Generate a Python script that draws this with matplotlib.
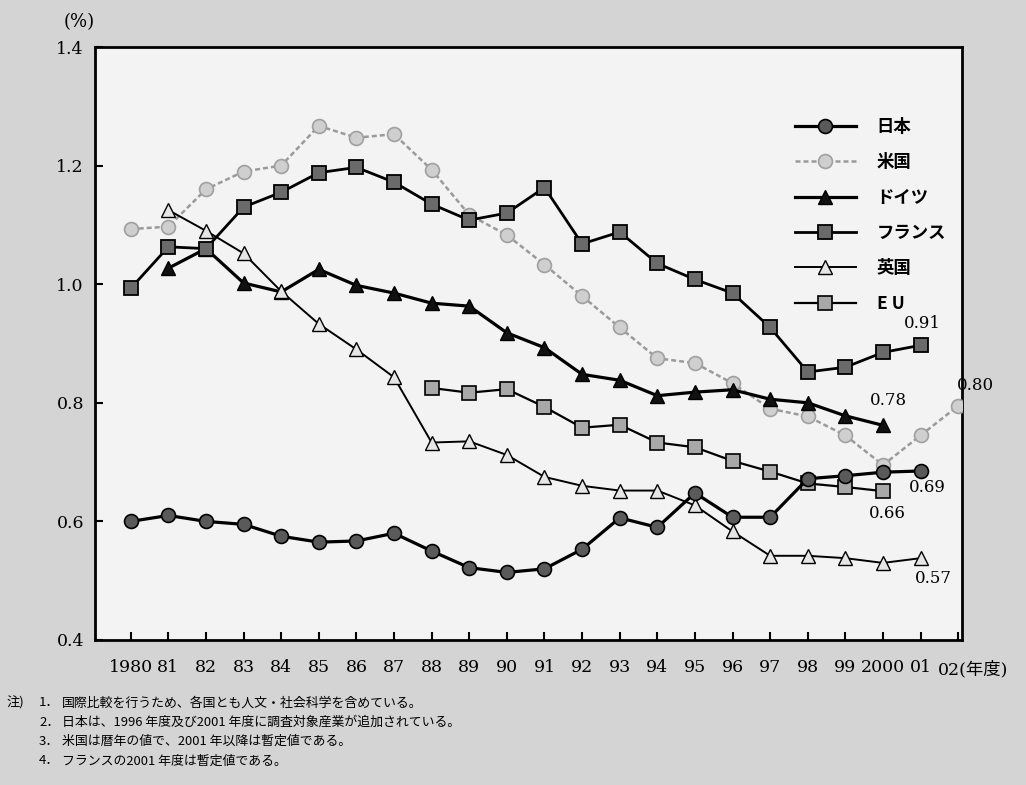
import matplotlib
matplotlib.use("Agg")
import matplotlib.pyplot as plt

plt.rcParams['font.family'] = ['DejaVu Serif', 'Noto Sans CJK JP']

# ---- data ----
years_jp = list(range(1980, 2002))
japan = [0.600, 0.610, 0.600, 0.595, 0.575, 0.565, 0.567, 0.580, 0.550, 0.522, 0.514,
         0.520, 0.553, 0.606, 0.590, 0.648, 0.607, 0.607, 0.672, 0.677, 0.683, 0.685]

years_us = list(range(1980, 2003))
usa = [1.093, 1.097, 1.160, 1.190, 1.200, 1.267, 1.247, 1.253, 1.193, 1.117, 1.083,
       1.033, 0.980, 0.927, 0.875, 0.867, 0.833, 0.790, 0.777, 0.745, 0.695, 0.745, 0.795]

years_de = list(range(1981, 2001))
germany = [1.027, 1.060, 1.002, 0.987, 1.025, 0.998, 0.985, 0.968, 0.963, 0.918,
           0.893, 0.848, 0.838, 0.812, 0.818, 0.822, 0.806, 0.800, 0.778, 0.762]

years_fr = list(range(1980, 2002))
france = [0.993, 1.063, 1.060, 1.130, 1.155, 1.188, 1.197, 1.172, 1.135, 1.108, 1.120,
          1.163, 1.068, 1.088, 1.035, 1.008, 0.985, 0.927, 0.852, 0.860, 0.885, 0.897]

years_uk = list(range(1981, 2002))
uk = [1.125, 1.090, 1.052, 0.988, 0.933, 0.890, 0.843, 0.733, 0.735, 0.712, 0.675,
      0.660, 0.652, 0.652, 0.627, 0.583, 0.542, 0.542, 0.538, 0.530, 0.538]

years_eu = list(range(1988, 2001))
eu = [0.825, 0.817, 0.823, 0.793, 0.758, 0.763, 0.733, 0.725, 0.702, 0.684, 0.664,
      0.658, 0.651]

xtick_years = list(range(1980, 2002))
xtick_labels = ["1980"] + ["%02d" % (y % 100) for y in range(1981, 2000)] + ["2000", "01"]

note_nums = ["1．", "2．", "3．", "4．"]
notes = [
    "国際比較を行うため、各国とも人文・社会科学を含めている。",
    "日本は、1996 年度及び2001 年度に調査対象産業が追加されている。",
    "米国は暦年の値で、2001 年以降は暫定値である。",
    "フランスの2001 年度は暫定値である。",
]

# ---- figure ----
W, H = 1026, 785
fig = plt.figure(figsize=(W / 100, H / 100), dpi=100, facecolor='#d4d4d4')
ax = fig.add_axes([95 / W, 1 - 640 / H, (962 - 95) / W, (640 - 47) / H])
ax.set_facecolor('#f3f3f3')

ax.plot(years_jp, japan, color='black', lw=2.3, marker='o', ms=10,
        mfc='#5a5a5a', mec='black', mew=1.2, label='日本', zorder=5)
ax.plot(years_us, usa, color='#9a9a9a', lw=1.8, ls=(0, (2, 1.2)), marker='o', ms=10,
        mfc='#cfcfcf', mec='#a0a0a0', mew=1.2, label='米国', zorder=3)
ax.plot(years_de, germany, color='black', lw=2.3, marker='^', ms=10,
        mfc='#111111', mec='black', mew=1.0, label='ドイツ', zorder=4)
ax.plot(years_fr, france, color='black', lw=2.0, marker='s', ms=9.5,
        mfc='#6a6a6a', mec='black', mew=1.3, label='フランス', zorder=4)
ax.plot(years_uk, uk, color='black', lw=1.4, marker='^', ms=10,
        mfc='#e6e6e6', mec='black', mew=1.0, label='英国', zorder=4)
ax.plot(years_eu, eu, color='black', lw=1.6, marker='s', ms=9.5,
        mfc='#a8a8a8', mec='black', mew=1.2, label='E U', zorder=4)

ax.set_xlim(1979.05, 2002.1)
ax.set_ylim(0.4, 1.4)
ax.set_yticks([0.4, 0.6, 0.8, 1.0, 1.2, 1.4])
ax.set_yticklabels(["0.4", "0.6", "0.8", "1.0", "1.2", "1.4"])
ax.set_xticks(xtick_years + [2002])
ax.set_xticklabels(xtick_labels + [""])
ax.tick_params(axis='both', direction='in', length=6, width=1.5, labelsize=12.5)
ax.tick_params(axis='x', pad=14)
ax.tick_params(axis='y', pad=8)
for s in ax.spines.values():
    s.set_linewidth(2.0)
    s.set_color('black')

ax.text(2001.45, -0.035, "02(年度)", transform=ax.get_xaxis_transform(),
        ha='left', va='top', fontsize=12.5)
fig.text(79 / W, 1 - 22 / H, "(%)", ha='center', va='center', fontsize=13)

# value labels at line ends (offsets in pixels, positive = up)
ends = [("0.91", years_fr[-1], france[-1], 2, 22),
        ("0.78", years_de[-1], germany[-1], 5, 25),
        ("0.80", years_us[-1], usa[-1], 17, 20),
        ("0.69", years_jp[-1], japan[-1], 7, -17),
        ("0.66", years_eu[-1], eu[-1], 4, -22),
        ("0.57", years_uk[-1], uk[-1], 13, -20)]
for txt, x, y, dx, dy in ends:
    ax.annotate(txt, (x, y), xytext=(dx, dy), textcoords='offset pixels',
                ha='center', va='center', fontsize=12)

leg = ax.legend(loc='upper left', bbox_to_anchor=(795 / W, 1 - 118 / H),
                bbox_transform=fig.transFigure, frameon=False, borderpad=0,
                borderaxespad=0, handlelength=3.5, handletextpad=1.2,
                labelspacing=1.0, prop={'family': ['Noto Sans CJK JP'],
                                        'size': 12.5, 'weight': 'bold'})

# notes under the chart
cjk = ['Noto Sans CJK JP']
fig.text(7 / W, 1 - 703 / H, "注)", ha='left', va='center', fontsize=9.5, family=cjk)
for i, (num, line) in enumerate(zip(note_nums, notes)):
    yy = 1 - (703 + i * 19.3) / H
    fig.text(39 / W, yy, num, ha='left', va='center', fontsize=9.5, family=cjk)
    fig.text(62 / W, yy, line, ha='left', va='center', fontsize=9.3, family=cjk)

fig.savefig("out.png", dpi=100, facecolor=fig.get_facecolor())
